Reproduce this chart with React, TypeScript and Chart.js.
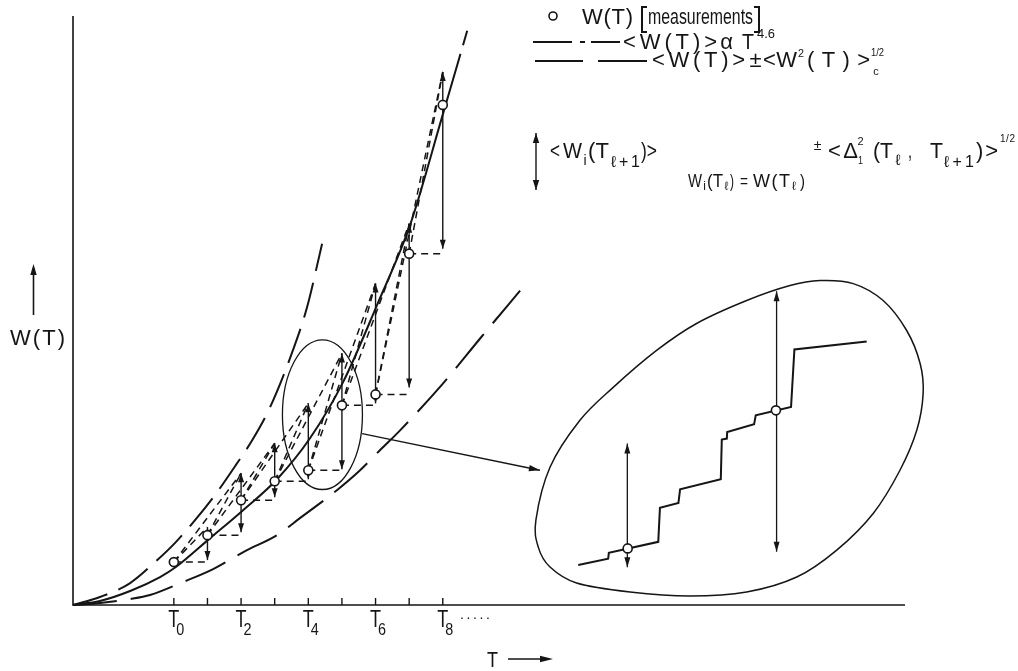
import React, { useEffect, useRef } from "react";
import { Chart, registerables } from "chart.js";

Chart.register(...registerables);

// ---------------- data (T in step units, W in arbitrary units) ----------------
const tIndex = [0, 1, 2, 3, 4, 5, 6, 7, 8];
const measuredW = [4.3, 7.0, 10.5, 12.4, 13.5, 20.0, 21.1, 35.2, 50.1];

// conditional arrows at T1..T8
const arrowT = [1, 2, 3, 4, 5, 6, 7, 8];
const arrowTop = [7.8, 13.2, 16.2, 20.2, 25.2, 32.2, 38.2, 53.4];
const arrowBottom = [4.5, 7.3, 10.8, 12.6, 13.6, 20.2, 21.8, 35.7];

// <W(T)> ~ T^4.6
const meanT = [-3, -2.2, -1.3, -0.41, 0.06, 1.08, 2.06, 3.07, 4.05, 5.03, 6.05, 7.03, 7.98, 8.75];
const meanW = [0, 0.4, 1.4, 2.8, 3.8, 6.7, 9.5, 12.6, 16.7, 22.3, 30.1, 38.1, 48.9, 57.8];

// <W> + sigma
const upperT = [-3, -2.2, -1.3, -0.56, 0.03, 0.63, 1.22, 1.88, 2.33, 2.86, 3.54, 3.96, 4.41];
const upperW = [0, 0.8, 2.2, 4.3, 6.2, 8.5, 11.0, 14.2, 16.5, 19.8, 25.5, 29.8, 36.2];

// <W> - sigma
const lowerT = [-3, -2.2, -1.3, -0.71, 0.27, 1.17, 2.12, 3.07, 3.75, 4.85, 5.54, 6.13, 6.73, 8.01, 9.11, 10.3];
const lowerW = [0, 0.2, 0.6, 1.0, 2.3, 3.6, 5.4, 7.0, 8.7, 11.5, 13.5, 15.5, 17.5, 22.2, 26.7, 31.5];

// axis ticks
const tickT = [0, 1, 2, 3, 4, 5, 6, 7, 8];
const tickSub = ["0", "", "2", "", "4", "", "6", "", "8"];
const xMin = -3;
const xMax = 21.75;
const yMax = 60;
const yAxisTop = 59;

// magnifier ellipse and pointer
const zoomCenter = [4.42, 19.07];
const zoomRadii = [1.19, 7.5];
const pointerFrom = [5.6, 17.17];
const pointerTo = [10.89, 13.5];

// inset outline (closed)
const insetOutlineT = [10.77, 11.19, 12.08, 13.07, 14.36, 15.55, 17.04, 18.33, 19.22, 20.21, 21.1, 21.8, 22.2, 22.29, 22.1, 21.6, 20.81, 19.72, 18.53, 17.04, 15.35, 13.57, 11.98, 11.19, 10.84];
const insetOutlineW = [8.5, 13.8, 18.5, 21.8, 25.5, 28.2, 30.5, 32.0, 32.5, 32.2, 30.5, 27.5, 24.2, 21.2, 17.5, 13.5, 9.2, 5.5, 2.8, 1.3, 0.9, 1.3, 2.2, 3.8, 5.8];

// inset staircase path of one realisation
const insetStairT = [12.03, 12.92, 12.94, 14.41, 14.46, 15.01, 15.06, 16.27, 16.3, 16.45, 16.46, 17.26, 17.31, 18.36, 18.46, 20.61];
const insetStairW = [4.0, 4.63, 5.23, 6.33, 9.73, 10.23, 11.6, 12.6, 16.57, 16.67, 17.33, 18.1, 19.0, 19.83, 25.6, 26.4];
const insetArrowT = [13.49, 17.93];
const insetArrowTop = [16.17, 31.43];
const insetArrowBottom = [3.77, 5.33];
const insetPointT = [13.5, 17.91];
const insetPointW = [5.67, 19.5];

// ---------------- style ----------------
const INK = "#151515";
const FONT = '"Liberation Sans", "DejaVu Sans", Arial, sans-serif';

type Run = [string, number, number, number, number]; // text, x, baseline, size, width

const legendRuns: Run[] = [
  ["W(T)", 582, 24, 22, 51],
  ["measurements", 648, 24, 22, 105],
  ["<W(T)>", 623, 49, 22, 94],
  ["α", 718, 49, 22, 17],
  ["T", 742, 49, 22, 12],
  ["4.6", 757, 38, 13, 18],
  ["<W(T)>", 652, 67, 22, 93],
  ["±", 748, 67, 22, 15],
  ["<W", 763, 67, 22, 34],
  ["2", 798, 57, 11, 6],
  ["(T)>", 807, 67, 22, 63],
  ["c", 872, 75, 11, 8],
  ["1/2", 871, 56, 10, 13],
  ["<", 550, 158, 22, 10],
  ["W", 563, 158, 22, 19],
  ["i", 583, 165, 14, 4],
  ["(T", 588, 158, 22, 21],
  ["ℓ+1", 611, 167, 16, 29],
  [")>", 641, 158, 22, 16],
  ["W", 688, 187, 18, 14],
  ["i", 703, 190, 12, 3],
  ["(T", 707, 187, 18, 16],
  ["ℓ", 724, 190, 12, 5],
  [")", 730, 187, 18, 4],
  ["=", 740, 187, 18, 8],
  ["W(T", 753, 187, 18, 37],
  ["ℓ", 791, 190, 12, 6],
  [")", 800, 187, 18, 5],
  ["±", 813, 150, 14, 9],
  ["<Δ", 828, 158, 22, 30],
  ["2", 857, 145, 11, 7],
  ["1", 858, 164, 10, 5],
  ["(T", 873, 158, 22, 20],
  ["ℓ", 895, 165, 15, 6],
  [",", 908, 158, 22, 4],
  ["T", 930, 158, 22, 13],
  ["ℓ+1", 944, 167, 16, 30],
  [")>", 976, 158, 22, 22],
  ["1/2", 1000, 142, 10, 15],
  // axis titles
  ["W(T)", 10, 345, 22, 55],
  ["T", 487, 667, 22, 11],
  [".....", 460, 619, 14, 30],
];

function drawRun(ctx: CanvasRenderingContext2D, r: Run) {
  const [text, x, y, size, w] = r;
  ctx.save();
  ctx.font = `${size}px ${FONT}`;
  (ctx as any).letterSpacing = "0px";
  const nat = ctx.measureText(text).width;
  const n = Array.from(text).length;
  if (w > nat) {
    if (n > 1) {
      (ctx as any).letterSpacing = `${(w - nat) / (n - 1)}px`;
      ctx.fillText(text, x, y);
    } else {
      ctx.fillText(text, x + (w - nat) / 2, y);
    }
  } else {
    ctx.translate(x, y);
    ctx.scale(w / nat, 1);
    ctx.fillText(text, 0, 0);
  }
  ctx.restore();
}

function arrowHead(ctx: CanvasRenderingContext2D, x1: number, y1: number, x2: number, y2: number, len = 9, half = 3) {
  const a = Math.atan2(y2 - y1, x2 - x1);
  const c = Math.cos(a);
  const s = Math.sin(a);
  ctx.beginPath();
  ctx.moveTo(x2, y2);
  ctx.lineTo(x2 - len * c + half * s, y2 - len * s - half * c);
  ctx.lineTo(x2 - len * c - half * s, y2 - len * s + half * c);
  ctx.closePath();
  ctx.fill();
}

function doubleArrow(ctx: CanvasRenderingContext2D, x: number, yA: number, yB: number, len = 9, half = 3) {
  ctx.beginPath();
  ctx.moveTo(x, yA);
  ctx.lineTo(x, yB);
  ctx.stroke();
  arrowHead(ctx, x, yB, x, yA, len, half);
  arrowHead(ctx, x, yA, x, yB, len, half);
}

function openCircle(ctx: CanvasRenderingContext2D, x: number, y: number, r = 4.5) {
  ctx.beginPath();
  ctx.arc(x, y, r, 0, Math.PI * 2);
  ctx.fillStyle = "#ffffff";
  ctx.fill();
  ctx.lineWidth = 1.6;
  ctx.strokeStyle = INK;
  ctx.stroke();
  ctx.fillStyle = INK;
}

const figurePlugin = {
  id: "figure",
  beforeDatasetsDraw(chart: any) {
    const ctx: CanvasRenderingContext2D = chart.ctx;
    const X = (v: number) => chart.scales.x.getPixelForValue(v);
    const Y = (v: number) => chart.scales.y.getPixelForValue(v);
    ctx.save();
    ctx.strokeStyle = INK;
    ctx.fillStyle = INK;

    // axes
    ctx.lineWidth = 1.6;
    ctx.beginPath();
    ctx.moveTo(X(xMin), Y(yAxisTop));
    ctx.lineTo(X(xMin), Y(0));
    ctx.lineTo(X(xMax), Y(0));
    ctx.stroke();
    ctx.lineWidth = 1.4;
    tickT.forEach((t) => {
      ctx.beginPath();
      ctx.moveTo(X(t), Y(0));
      ctx.lineTo(X(t), Y(0) - 7);
      ctx.stroke();
    });

    // dashed conditional connectors
    ctx.setLineDash([7, 5]);
    ctx.lineWidth = 1.5;
    measuredW.forEach((w, l) => {
      const x0 = X(tIndex[l]);
      const y0 = Y(w);
      if (l < arrowT.length) {
        ctx.beginPath();
        ctx.moveTo(x0, y0);
        ctx.lineTo(X(arrowT[l]), y0);
        ctx.stroke();
        ctx.beginPath();
        ctx.moveTo(x0, y0);
        ctx.lineTo(X(arrowT[l]), Y(arrowTop[l]));
        ctx.stroke();
      }
      if (l + 1 < arrowT.length) {
        ctx.beginPath();
        ctx.moveTo(x0, y0);
        ctx.lineTo(X(arrowT[l + 1]), Y(arrowTop[l + 1]));
        ctx.stroke();
      }
    });
    ctx.setLineDash([]);

    // conditional spread arrows
    ctx.lineWidth = 1.4;
    arrowT.forEach((t, i) => doubleArrow(ctx, X(t), Y(arrowBottom[i]), Y(arrowTop[i])));

    // magnifier ellipse
    ctx.lineWidth = 1.3;
    const cx = X(zoomCenter[0]);
    const cy = Y(zoomCenter[1]);
    ctx.beginPath();
    ctx.ellipse(cx, cy, X(zoomCenter[0] + zoomRadii[0]) - cx, cy - Y(zoomCenter[1] + zoomRadii[1]), 0, 0, Math.PI * 2);
    ctx.stroke();

    // pointer to inset
    const px1 = X(pointerFrom[0]);
    const py1 = Y(pointerFrom[1]);
    const px2 = X(pointerTo[0]);
    const py2 = Y(pointerTo[1]);
    ctx.beginPath();
    ctx.moveTo(px1, py1);
    ctx.lineTo(px2, py2);
    ctx.stroke();
    arrowHead(ctx, px1, py1, px2, py2, 11, 3.2);
    ctx.restore();
  },
  afterDatasetsDraw(chart: any) {
    const ctx: CanvasRenderingContext2D = chart.ctx;
    const X = (v: number) => chart.scales.x.getPixelForValue(v);
    const Y = (v: number) => chart.scales.y.getPixelForValue(v);
    ctx.save();
    ctx.strokeStyle = INK;
    ctx.fillStyle = INK;

    // inset outline: closed Catmull-Rom spline through read points
    const pts = insetOutlineT.map((t, i) => [X(t), Y(insetOutlineW[i])]);
    const n = pts.length;
    ctx.lineWidth = 1.5;
    ctx.beginPath();
    ctx.moveTo(pts[0][0], pts[0][1]);
    for (let i = 0; i < n; i++) {
      const p0 = pts[(i - 1 + n) % n];
      const p1 = pts[i];
      const p2 = pts[(i + 1) % n];
      const p3 = pts[(i + 2) % n];
      ctx.bezierCurveTo(
        p1[0] + (p2[0] - p0[0]) / 6,
        p1[1] + (p2[1] - p0[1]) / 6,
        p2[0] - (p3[0] - p1[0]) / 6,
        p2[1] - (p3[1] - p1[1]) / 6,
        p2[0],
        p2[1]
      );
    }
    ctx.closePath();
    ctx.stroke();

    // inset staircase
    ctx.lineWidth = 2;
    ctx.lineJoin = "miter";
    ctx.beginPath();
    insetStairT.forEach((t, i) => {
      if (i === 0) ctx.moveTo(X(t), Y(insetStairW[i]));
      else ctx.lineTo(X(t), Y(insetStairW[i]));
    });
    ctx.stroke();

    // inset arrows
    ctx.lineWidth = 1.3;
    insetArrowT.forEach((t, i) => doubleArrow(ctx, X(t), Y(insetArrowBottom[i]), Y(insetArrowTop[i]), 10, 3));
    insetPointT.forEach((t, i) => openCircle(ctx, X(t), Y(insetPointW[i])));

    // tick labels
    ctx.fillStyle = INK;
    tickT.forEach((t, i) => {
      if (!tickSub[i]) return;
      drawRun(ctx, ["T", X(t) - 5.5, Y(0) + 22, 24, 11]);
      drawRun(ctx, [tickSub[i], X(t) + 2.5, Y(0) + 30, 17, 8]);
    });

    // legend symbols
    openCircle(ctx, 553, 16, 4);
    ctx.lineWidth = 2;
    ctx.beginPath();
    ctx.moveTo(647, 7); ctx.lineTo(642, 7); ctx.lineTo(642, 32); ctx.lineTo(647, 32);
    ctx.moveTo(754, 7); ctx.lineTo(759, 7); ctx.lineTo(759, 32); ctx.lineTo(754, 32);
    ctx.stroke();
    ctx.lineWidth = 2;
    ctx.beginPath();
    ctx.moveTo(533, 42); ctx.lineTo(572, 42);
    ctx.moveTo(580, 42); ctx.lineTo(585, 42);
    ctx.moveTo(591, 42); ctx.lineTo(620, 42);
    ctx.moveTo(535, 61); ctx.lineTo(583, 61);
    ctx.moveTo(598, 61); ctx.lineTo(647, 61);
    ctx.stroke();
    ctx.lineWidth = 1.4;
    doubleArrow(ctx, 536, 190, 133, 10, 3.2);

    // axis title arrows
    ctx.lineWidth = 1.6;
    ctx.beginPath();
    ctx.moveTo(33.5, 315); ctx.lineTo(33.5, 268);
    ctx.stroke();
    arrowHead(ctx, 33.5, 315, 33.5, 264, 11, 3.2);
    ctx.beginPath();
    ctx.moveTo(508, 659); ctx.lineTo(548, 659);
    ctx.stroke();
    arrowHead(ctx, 508, 659, 553, 659, 13, 3.2);

    legendRuns.forEach((r) => drawRun(ctx, r));
    ctx.restore();
  },
};

export default function App() {
  const ref = useRef<HTMLCanvasElement | null>(null);

  useEffect(() => {
    if (!ref.current) return;
    const toXY = (xs: number[], ys: number[]) => xs.map((x, i) => ({ x, y: ys[i] }));
    const chart = new Chart(ref.current, {
      type: "scatter",
      data: {
        datasets: [
          {
            label: "W(T) [measurements]",
            data: toXY(tIndex, measuredW),
            showLine: false,
            pointRadius: 4.5,
            pointBackgroundColor: "#ffffff",
            pointBorderColor: INK,
            pointBorderWidth: 1.6,
            order: 0,
          },
          {
            label: "<W(T)> α T^4.6",
            data: toXY(meanT, meanW),
            showLine: true,
            borderColor: INK,
            borderWidth: 2,
            pointRadius: 0,
            cubicInterpolationMode: "monotone",
            borderDash: [712, 9, 15, 80],
            clip: false,
            order: 2,
          },
          {
            label: "<W(T)> + <W²(T)>c^1/2",
            data: toXY(upperT, upperW),
            showLine: true,
            borderColor: INK,
            borderWidth: 2,
            pointRadius: 0,
            cubicInterpolationMode: "monotone",
            borderDash: [36, 12],
            clip: false,
            order: 2,
          },
          {
            label: "<W(T)> - <W²(T)>c^1/2",
            data: toXY(lowerT, lowerW),
            showLine: true,
            borderColor: INK,
            borderWidth: 2,
            pointRadius: 0,
            cubicInterpolationMode: "monotone",
            borderDash: [44, 14],
            clip: false,
            order: 2,
          },
        ] as any,
      },
      options: {
        animation: false,
        responsive: false,
        devicePixelRatio: 1,
        events: [],
        layout: { padding: { left: 73, right: 113, top: 5, bottom: 66 } },
        scales: {
          x: { type: "linear", min: xMin, max: xMax, display: false },
          y: { type: "linear", min: 0, max: yMax, display: false },
        },
        plugins: { legend: { display: false }, tooltip: { enabled: false } },
      } as any,
      plugins: [figurePlugin as any],
    });
    return () => chart.destroy();
  }, []);

  return (
    <div style={{ position: "fixed", left: 0, top: 0, width: 1018, height: 671, background: "#fff" }}>
      <canvas ref={ref} width={1018} height={671} style={{ display: "block", width: 1018, height: 671 }} />
    </div>
  );
}
